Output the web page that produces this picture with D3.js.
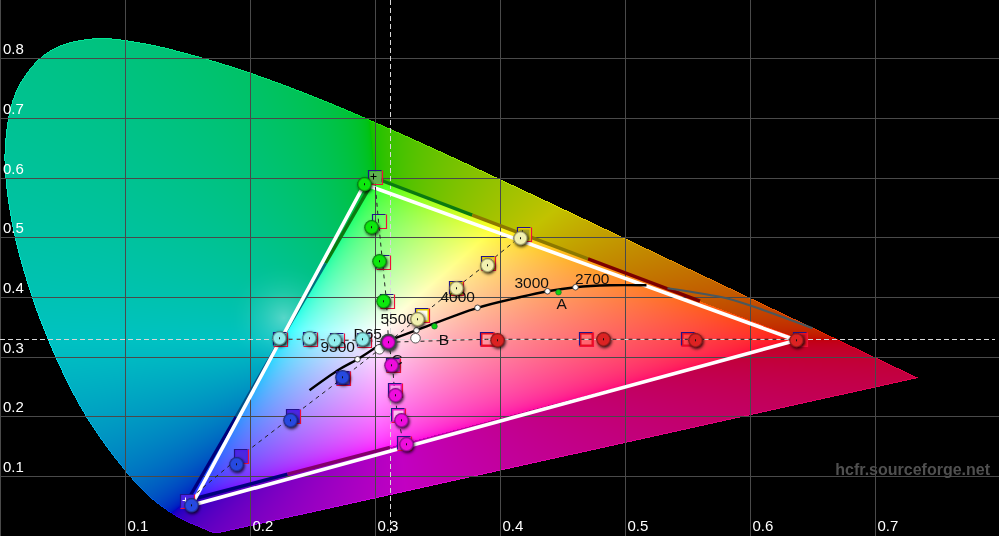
<!DOCTYPE html>
<html><head><meta charset="utf-8">
<script src="https://cdn.jsdelivr.net/npm/d3@7"></script>
<style>
html,body{margin:0;padding:0;background:#000;overflow:hidden}
#wrap{position:relative;width:999px;height:536px}
canvas,svg{position:absolute;left:0;top:0;display:block}
text{font-family:"Liberation Sans",Arial,sans-serif}
</style></head><body>
<div id="wrap"><canvas id="field" width="999" height="536"></canvas><svg id="chart" width="999" height="536"></svg></div>
<script>
// ---- data (CIE xy chromaticity) ----
const spectralLocus=[[.1741,.005],[.1733,.0048],[.1726,.0048],[.1714,.0051],[.1689,.0069],[.1644,.0109],[.1566,.0177],[.144,.0297],[.1241,.0578],[.1096,.0868],[.0913,.1327],[.0687,.2007],[.0454,.295],[.0235,.4127],[.0082,.5384],[.0039,.6548],[.0139,.7502],[.0389,.812],[.0743,.8338],[.1142,.8262],[.1547,.8059],[.1929,.7816],[.2296,.7543],[.2658,.7243],[.3016,.6923],[.3373,.6589],[.3731,.6245],[.4087,.5896],[.4441,.5547],[.4788,.5202],[.5125,.4866],[.5448,.4544],[.5752,.4242],[.6029,.3965],[.627,.3725],[.6658,.334],[.6915,.3083],[.7079,.292],[.719,.2809],[.726,.274],[.73,.27],[.7334,.2666],[.7347,.2653]];
const measuredGamut=[[.6372,.3283],[.2916,.5896],[.1532,.0519]];
const planckInside=[[.2476,.2446],[.2716,.2797],[.286,.2965],[.3036,.3199],[.31,.3266],[.3332,.3451],[.382,.3827],[.4156,.4003],[.438,.4104],[.4604,.4171],[.4876,.4204],[.5172,.4204]];
const planckOutside=[[.534,.4154],[.5812,.3987],[.5996,.3869],[.6396,.3568],[.65,.3484]];
const planckDots=[[.4604,.4171],[.438,.4104],[.382,.3827],[.3332,.3451],[.286,.2965]];
const illuminantDots=[[.3476,.3518],[.4468,.4087]];
const whiteMarkers=[[.3324,.3317],[.3036,.3132]];
const whitePoint=[.3108,.325];
const crosshair=[.312,.33];
const curveLabels=["2700","3000","4000","5500","D65","9300","A","B","C"];
const curveLabelX=[.46,.4116,.3524,.3044,.2828,.2564,.4452,.351,.3132];
const curveLabelY=[.4221,.4154,.3919,.3551,.3300,.3082,.3802,.3199,.2864];
const xTicks=[0,.1,.2,.3,.4,.5,.6,.7];
const yTicks=[.1,.2,.3,.4,.5,.6,.7,.8];
const redTarget=[[.6396,.33],[.55,.33],[.4684,.33],[.3892,.33]];
const redMeasured=[[.6372,.3283],[.5564,.3283],[.4828,.33],[.398,.3283]];
const greenTarget=[[.2996,.6013],[.3028,.5276],[.306,.459],[.3092,.3936]];
const greenMeasured=[[.2916,.5896],[.2972,.5176],[.3036,.4606],[.3068,.3936]];
const blueTarget=[[.1492,.0586],[.1924,.134],[.234,.201],[.274,.2647]];
const blueMeasured=[[.1532,.0519],[.1892,.1206],[.2324,.1943],[.274,.2663]];
const yellowTarget=[[.4188,.5059],[.39,.4573],[.3644,.4154],[.3372,.3702]];
const yellowMeasured=[[.4164,.4992],[.39,.4539],[.3652,.4154],[.334,.3635]];
const cyanTarget=[[.2236,.33],[.2476,.33],[.2692,.3283],[.2908,.3283]];
const cyanMeasured=[[.2236,.3317],[.2476,.3317],[.2676,.3283],[.29,.33]];
const magentaTarget=[[.3228,.1558],[.318,.2027],[.3156,.2446],[.314,.2864]];
const magentaMeasured=[[.3252,.1541],[.3212,.1943],[.3164,.2362],[.3132,.2864]];
const referenceEdgeSegments=[
 [[.3,.6],[.3778,.538]],[[.3778,.538],[.4704,.4646]],[[.4704,.4646],[.56,.394]],
 [[.3,.6],[.2604,.4573]],[[.2604,.4573],[.2275,.34]],[[.2275,.34],[.1889,.2]],[[.1889,.2],[.15,.06]],
 [[.15,.06],[.23,.104]],[[.23,.104],[.312,.149]]];
const watermark="hcfr.sourceforge.net";

const W=999,H=536;
const x=d3.scaleLinear().domain([0,.7]).range([0,875]);
const y=d3.scaleLinear().domain([.1,.8]).range([476.6,58.6]);
const lineXY=d3.line().x(d=>x(d[0])).y(d=>y(d[1]));

// ---- chromaticity field ----
function colourAt(cx,cy,px,py){
  const X=cx/cy,Y=1,Z=(1-cx-cy)/cy;
  let r=3.2406*X-1.5372*Y-.4986*Z,g=-.9689*X+1.8758*Y+.0415*Z,b=.0557*X-.204*Y+1.057*Z;
  const mn=Math.min(r,g,b),outside=mn<0;
  if(outside){r-=mn;g-=mn;b-=mn;}
  else{r*=1.25;g*=.95;b*=1.08;}
  const m=Math.max(r,g,b,1e-6),k=outside?.76:1;
  let c=[r,g,b].map(v=>255*k*Math.pow(v/m,1/2.2));
  if(outside){
    const d=Math.hypot(px-284,py-318)/58;
    if(d<1){const w=.34*(1-d)*(1-d);c=c.map(v=>v+(255-v)*w);}
  }
  return c;
}
const ctx=document.getElementById("field").getContext("2d");
const locusPath=new Path2D(d3.line().x(d=>x(d[0])).y(d=>y(d[1])).curve(d3.curveCatmullRom)(spectralLocus)+"Z");
const mask=new Uint8Array(W*H);
for(let j=0;j<H;j++)for(let i=0;i<W;i++)mask[j*W+i]=ctx.isPointInPath(locusPath,i+.5,j+.5)?1:0;
const img=ctx.createImageData(W,H);
for(let j=0;j<H;j++)for(let i=0;i<W;i++){
  if(!mask[j*W+i])continue;
  const c=colourAt(x.invert(i+.5),y.invert(j+.5),i+.5,j+.5),o=(j*W+i)*4;
  const rim=(i>0&&!mask[j*W+i-1])||(i<W-1&&!mask[j*W+i+1])||(j>0&&!mask[(j-1)*W+i])||(j<H-1&&!mask[(j+1)*W+i]);
  const f=rim?1.18:1;
  img.data[o]=Math.min(255,c[0]*f);img.data[o+1]=Math.min(255,c[1]*f);img.data[o+2]=Math.min(255,c[2]*f);img.data[o+3]=255;
}
ctx.putImageData(img,0,0);

// ---- svg ----
const svg=d3.select("#chart");
const defs=svg.append("defs");
const shadow=defs.append("filter").attr("id","shadow").attr("x","-60%").attr("y","-60%").attr("width","220%").attr("height","220%");
shadow.append("feDropShadow").attr("dx",1).attr("dy",1.5).attr("stdDeviation",1.6).attr("flood-color","#000").attr("flood-opacity",.85);
const series=[
 {id:"red",t:redTarget,m:redMeasured,edge:"#e81020",hi:"#dc2424",lo:"#701414",fills:["#b81020","none","none","none"],plus:null},
 {id:"green",t:greenTarget,m:greenMeasured,edge:"none",hi:"#0ee80e",lo:"#046a0c",fills:["#60b050","none","none","none"],plus:"#000"},
 {id:"blue",t:blueTarget,m:blueMeasured,edge:"#4a20e8",hi:"#2848e0",lo:"#1c2470",fills:["#4a28e0","#4a28e0","#4a28e0","#d8d0ff"],plus:"#fff"},
 {id:"yellow",t:yellowTarget,m:yellowMeasured,edge:"#e8cc00",hi:"#f2f0b0",lo:"#6e6a40",fills:["#a8a020","none","none","#fffff0"],plus:"#000"},
 {id:"cyan",t:cyanTarget,m:cyanMeasured,edge:"none",hi:"#90ecec",lo:"#3c6466",fills:["#30a898","#70d0cc","#78e0ea","#78e0ea"],plus:null},
 {id:"magenta",t:magentaTarget,m:magentaMeasured,edge:"#e818c8",hi:"#ee08dc",lo:"#6a0c70",fills:["#d850c0","#ffc0f0","none","none"],plus:null}
];
series.forEach(s=>{
  const g=defs.append("radialGradient").attr("id","ball-"+s.id).attr("cx",.5).attr("cy",.5).attr("r",.5);
  g.append("stop").attr("offset",0).attr("stop-color",s.hi);
  g.append("stop").attr("offset",.72).attr("stop-color",s.hi);
  g.append("stop").attr("offset",1).attr("stop-color",s.lo);
});

// grid via axes
const gridX=svg.append("g").attr("transform",`translate(0,${H})`).call(d3.axisBottom(x).tickValues(xTicks).tickSize(-H).tickFormat(d3.format(".1f")));
const gridY=svg.append("g").call(d3.axisLeft(y).tickValues(yTicks).tickSize(-W).tickFormat(d3.format(".1f")));
[gridX,gridY].forEach(g=>{g.select(".domain").remove();g.selectAll("line").attr("stroke","#4a4a4a").attr("stroke-width",1);});
gridX.selectAll(".tick").attr("transform",d=>`translate(${Math.floor(x(d))+.5},0)`);
gridY.selectAll(".tick").attr("transform",d=>`translate(0,${Math.floor(y(d))+.5})`);
gridX.selectAll(".tick text").filter(d=>d===0).remove();
gridX.selectAll("text").attr("x",2).attr("y",-5).attr("dy",0).attr("text-anchor","start").attr("fill","#fff").attr("font-size",15).attr("font-family",'"Liberation Sans"');
gridY.selectAll("text").attr("x",3).attr("y",-5).attr("dy",0).attr("text-anchor","start").attr("fill","#fff").attr("font-size",15).attr("font-family",'"Liberation Sans"');
gridY.selectAll("line").attr("x2",W);

// crosshair
const crossG=svg.append("g").attr("stroke","#d8d8d8").attr("stroke-width",1).attr("stroke-dasharray","5,3");
crossG.append("line").attr("x1",Math.floor(x(crosshair[0]))+.5).attr("x2",Math.floor(x(crosshair[0]))+.5).attr("y1",0).attr("y2",H);
crossG.append("line").attr("y1",Math.floor(y(crosshair[1]))+.5).attr("y2",Math.floor(y(crosshair[1]))+.5).attr("x1",0).attr("x2",995);

// reference gamut dark edges, measured gamut white
const edgeColours=["#0a7a10","#8c7800","#7c0000","#0a7a10","#00707c","#005088","#00007c","#00007c","#82006a"];
svg.append("g").selectAll("path").data(referenceEdgeSegments).join("path")
  .attr("d",d=>lineXY(d)).attr("fill","none").attr("stroke",(d,i)=>edgeColours[i]).attr("stroke-width",3.4);
svg.append("path").attr("d",lineXY(measuredGamut)+"Z").attr("fill","none").attr("stroke","#fff").attr("stroke-width",3.6).attr("stroke-linejoin","miter");

// planck locus
const curveXY=d3.line().x(d=>x(d[0])).y(d=>y(d[1])).curve(d3.curveCatmullRom);
svg.append("path").attr("d",curveXY(planckOutside)).attr("fill","none").attr("stroke","#4a585c").attr("stroke-width",2.2);
svg.append("path").attr("d",curveXY(planckInside)).attr("fill","none").attr("stroke","#000").attr("stroke-width",2.4);

// dashed black spokes from white
const spokes=svg.append("g").attr("stroke","#222").attr("stroke-width",1).attr("stroke-dasharray","4,4").attr("fill","none");
series.forEach(s=>{spokes.append("path").attr("d",lineXY([whitePoint,...s.t.slice().reverse()]));});

// squares
series.forEach(s=>{
  const g=svg.append("g").selectAll("g").data(s.t).join("g").attr("transform",d=>`translate(${Math.round(x(d[0]))+.5},${Math.round(y(d[1]))+.5})`);
  const r=6;
  g.append("rect").attr("x",-r).attr("y",-r).attr("width",2*r).attr("height",2*r).attr("fill",(d,i)=>s.fills[i]).attr("stroke",s.edge).attr("stroke-width",2);
  g.append("path").attr("d",`M${-r-1},${r}V${-r-1}H${r}`).attr("fill","none").attr("stroke","#221488").attr("stroke-width",1.2);
  g.append("path").attr("d",`M${-r-1},${r+1}H${r+1}V${-r-1}`).attr("fill","none").attr("stroke","#f0103a").attr("stroke-width",1.2);
  if(s.plus) g.filter((d,i)=>i===0).append("path").attr("d","M-5,-1H1M-2,-4V2").attr("stroke",s.plus).attr("stroke-width",1).attr("fill","none");
});

// planck dots, illuminants
svg.append("g").selectAll("circle").data(planckDots).join("circle").attr("cx",d=>x(d[0])).attr("cy",d=>y(d[1])).attr("r",2.8).attr("fill","#fff").attr("stroke","#222").attr("stroke-width",.8);
svg.append("g").selectAll("circle").data(illuminantDots).join("circle").attr("cx",d=>x(d[0])).attr("cy",d=>y(d[1])).attr("r",2.8).attr("fill","#10d010").attr("stroke","#063").attr("stroke-width",.6);
svg.append("g").selectAll("circle").data(whiteMarkers).join("circle").attr("cx",d=>x(d[0])).attr("cy",d=>y(d[1])).attr("r",4.8).attr("fill","#fff").attr("stroke","#333").attr("stroke-width",.8);

// labels
svg.append("g").selectAll("text").data(curveLabels).join("text").text(d=>d)
  .attr("x",(d,i)=>x(curveLabelX[i])).attr("y",(d,i)=>y(curveLabelY[i])).attr("font-size",15.5).attr("fill","#111");

// centre grey
svg.append("circle").attr("cx",x(whitePoint[0])).attr("cy",y(whitePoint[1])).attr("r",8.4).attr("fill","#3a4a44").attr("filter","url(#shadow)");

// measured balls
series.forEach(s=>{
  const g=svg.append("g").selectAll("g").data(s.m).join("g").attr("transform",d=>`translate(${x(d[0])},${y(d[1])})`);
  g.append("circle").attr("r",7.2).attr("fill",`url(#ball-${s.id})`).attr("filter","url(#shadow)");
  g.append("rect").attr("x",-.5).attr("y",-1).attr("width",1).attr("height",2).attr("fill","#111");
});
const wp=svg.append("g").attr("transform",`translate(${x(whitePoint[0])},${y(whitePoint[1])})`);
wp.append("circle").attr("r",6.8).attr("fill","url(#ball-magenta)");
wp.append("rect").attr("x",-.5).attr("y",-1).attr("width",1).attr("height",2).attr("fill","#111");

svg.append("text").text(watermark).attr("x",990).attr("y",475).attr("text-anchor","end").attr("font-size",16).attr("font-weight","bold").attr("fill","#505050");
</script></body></html>
